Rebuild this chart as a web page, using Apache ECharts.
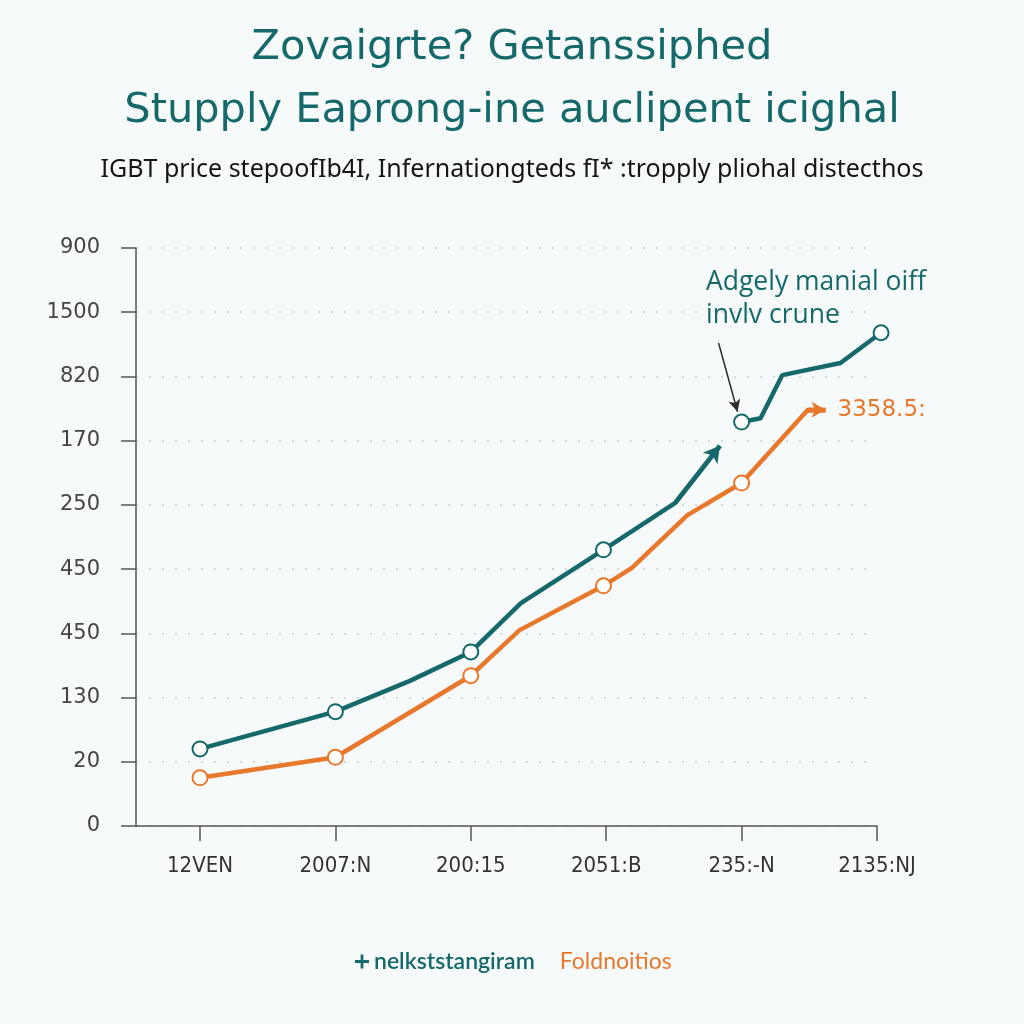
<!DOCTYPE html>
<html>
<head>
<meta charset="utf-8">
<script src="https://cdn.jsdelivr.net/npm/echarts@6/dist/echarts.min.js"></script>
<style>html,body{margin:0;padding:0;background:#f7fafb;}#c{width:1024px;height:1024px;}</style>
</head>
<body>
<div id="c"></div>
<script>
// ---- data ----
const xLabels = ['12VEN', '2007:N', '200:15', '2051:B', '235:-N', '2135:NJ'];
const yLabels = ['0', '20', '130', '450', '450', '250', '170', '820', '1500', '900'];
const tealName = 'nelkststangiram';
const orangeName = 'Foldnoitios';
// teal segment 1 (ends with arrow)
const tealX1 = [0, 1, 1.55, 2, 2.37, 2.98, 3.51, 3.84];
const tealY1 = [1.20, 1.78, 2.26, 2.71, 3.47, 4.30, 5.03, 5.92];
const tealMark1 = [1, 1, 0, 1, 0, 1, 0, 0];
// teal segment 2
const tealX2 = [4.0, 4.14, 4.30, 4.73, 5.03];
const tealY2 = [6.29, 6.35, 7.02, 7.21, 7.68];
const tealMark2 = [1, 0, 0, 0, 1];
// orange series
const orangeX = [0, 1, 2, 2.36, 2.98, 3.19, 3.60, 4.0, 4.49, 4.62];
const orangeY = [0.75, 1.07, 2.34, 3.05, 3.74, 4.02, 4.84, 5.34, 6.48, 6.48];
const orangeMark = [1, 1, 1, 0, 1, 0, 0, 1, 0, 0];
const orangeEndLabel = '3358.5:';
// annotation
const noteText = 'Adgely manial oiff\ninvlv crune';
const noteArrowFrom = [3.83, 7.52];
const noteArrowTo = [3.97, 6.45];

const TEAL = '#16696a';
const ORANGE = '#e8782c';

function pts(xs, ys, marks) {
  return xs.map((x, i) => marks[i] ? [x, ys[i]] : { value: [x, ys[i]], symbol: 'none' });
}
const last = (a) => a[a.length - 1];
const prev = (a) => a[a.length - 2];

const chart = echarts.init(document.getElementById('c'));
chart.setOption({
  animation: false,
  backgroundColor: '#f7fafb',
  title: [
    {
      text: 'Zovaigrte? Getanssiphed\nStupply Eaprong-ine auclipent icighal',
      left: 'center', top: 12,
      textStyle: { fontFamily: 'DejaVu Sans', fontSize: 41.5, fontWeight: 'normal', color: TEAL, lineHeight: 63 }
    },
    {
      text: 'IGBT price stepoofIb4I, Infernationgteds fI* :tropply pliohal distecthos',
      left: 'center', top: 152,
      textStyle: { fontFamily: 'Noto Sans', fontSize: 25, fontWeight: 'normal', color: '#151515' }
    },
    {
      text: noteText,
      left: 701, top: 261,
      textStyle: { fontFamily: 'Open Sans', fontSize: 26.5, fontWeight: 500, color: TEAL, lineHeight: 33 }
    }
  ],
  legend: {
    left: 350, top: 945,
    itemGap: 6, itemWidth: 14, itemHeight: 14,
    data: [
      { name: tealName, icon: 'path://M4,0h2v4h4v2h-4v4h-2v-4h-4v-2h4z', itemStyle: { color: TEAL },
        textStyle: { color: TEAL, fontWeight: 600 } },
      { name: orangeName, icon: 'rect', itemStyle: { color: 'rgba(0,0,0,0)', borderWidth: 0 },
        textStyle: { color: ORANGE } }
    ],
    textStyle: { fontFamily: 'Lato', fontSize: 23 },
    selectedMode: false
  },
  grid: { left: 136, right: 147, top: 248, bottom: 198 },
  xAxis: {
    type: 'value', min: (136 - 200) / 135.4, max: 5,
    axisLine: { show: true, onZero: false, lineStyle: { color: '#555', width: 1.5 } },
    axisTick: { show: true, length: 15, customValues: [0, 1, 2, 3, 4, 5], lineStyle: { color: '#555', width: 1.5 } },
    axisLabel: {
      customValues: [0, 1, 2, 3, 4, 5], margin: 29,
      formatter: (v) => xLabels[Math.round(v)],
      fontFamily: "'DejaVu Sans Condensed', 'Liberation Sans Narrow', 'Liberation Sans', sans-serif", fontSize: 22, color: '#333'
    },
    splitLine: { show: false }
  },
  yAxis: {
    type: 'value', min: 0, max: 9, interval: 1,
    axisLine: { show: true, onZero: false, lineStyle: { color: '#555', width: 1.5 } },
    axisTick: { show: true, length: 15, lineStyle: { color: '#555', width: 1.5 } },
    axisLabel: {
      margin: 36, formatter: (v) => yLabels[Math.round(v)],
      fontFamily: 'DejaVu Sans', fontSize: 21, color: '#444'
    },
    splitLine: { show: true, lineStyle: { color: '#c9cdcd', width: 1.5, type: [2, 11] } }
  },
  series: [
    {
      name: tealName, type: 'line', clip: false,
      data: pts(tealX1, tealY1, tealMark1),
      symbol: 'emptyCircle', symbolSize: 15,
      lineStyle: { color: TEAL, width: 4.5 },
      itemStyle: { color: TEAL, borderWidth: 3.5 },
      markLine: {
        silent: true, animation: false,
        symbol: ['none', 'arrow'], symbolSize: [14, 16],
        label: { show: false },
        lineStyle: { color: TEAL, width: 4.5, type: 'solid' },
        data: [[{ coord: [prev(tealX1), prev(tealY1)] }, { coord: [last(tealX1), last(tealY1)] }]]
      }
    },
    {
      name: tealName, type: 'line', clip: false,
      data: pts(tealX2, tealY2, tealMark2),
      symbol: 'emptyCircle', symbolSize: 15,
      lineStyle: { color: TEAL, width: 4.5 },
      itemStyle: { color: TEAL, borderWidth: 3.5 },
      markLine: {
        silent: true, animation: false,
        symbol: ['none', 'arrow'], symbolSize: [9, 12],
        label: { show: false },
        lineStyle: { color: '#2b2b2b', width: 1.5, type: 'solid' },
        data: [[{ coord: noteArrowFrom }, { coord: noteArrowTo }]]
      }
    },
    {
      name: orangeName, type: 'line', clip: false,
      data: pts(orangeX, orangeY, orangeMark),
      symbol: 'emptyCircle', symbolSize: 15,
      lineStyle: { color: ORANGE, width: 4.5 },
      itemStyle: { color: ORANGE, borderWidth: 3.5 },
      endLabel: {
        show: true, formatter: orangeEndLabel, distance: 12,
        fontFamily: 'DejaVu Sans', fontSize: 23, color: ORANGE
      },
      markLine: {
        silent: true, animation: false,
        symbol: ['none', 'arrow'], symbolSize: [12, 14],
        label: { show: false },
        lineStyle: { color: ORANGE, width: 4.5, type: 'solid' },
        data: [[{ coord: [prev(orangeX), prev(orangeY)] }, { coord: [last(orangeX), last(orangeY)] }]]
      }
    }
  ]
});
</script>
</body>
</html>
